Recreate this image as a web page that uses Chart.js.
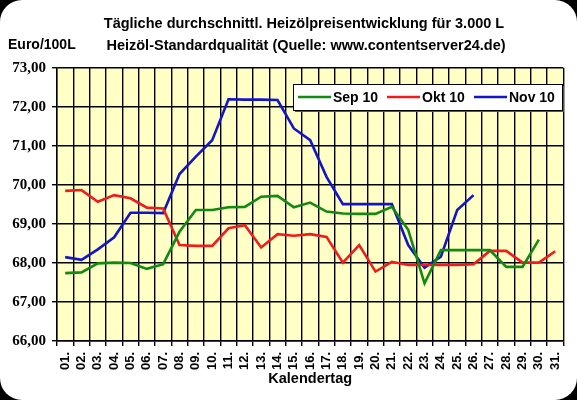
<!DOCTYPE html>
<html>
<head>
<meta charset="utf-8">
<script src="https://cdn.jsdelivr.net/npm/chart.js@4.4.0/dist/chart.umd.min.js"></script>
<style>
	html, body { margin: 0; padding: 0; background: #fff; }
	#wrap { width: 577px; height: 400px; }
</style>
</head>
<body>
<div id="wrap"><canvas id="line-chartcanvas" width="577" height="400"></canvas></div>
<script>
// categories: days of the month
var days = ["01.", "02.", "03.", "04.", "05.", "06.", "07.", "08.", "09.", "10.",
	"11.", "12.", "13.", "14.", "15.", "16.", "17.", "18.", "19.", "20.",
	"21.", "22.", "23.", "24.", "25.", "26.", "27.", "28.", "29.", "30.", "31."];

// Euro/100L
var sep10 = [67.74, 67.76, 67.99, 68.01, 68.00, 67.85, 67.97, 68.80, 69.36, 69.36,
	69.43, 69.44, 69.70, 69.72, 69.43, 69.55, 69.32, 69.27, 69.26, 69.26,
	69.44, 68.85, 67.48, 68.33, 68.33, 68.33, 68.33, 67.90, 67.90, 68.60];
var okt10 = [69.85, 69.87, 69.57, 69.74, 69.66, 69.42, 69.40, 68.46, 68.44, 68.44,
	68.89, 68.97, 68.40, 68.74, 68.70, 68.74, 68.67, 68.01, 68.46, 67.78,
	68.03, 67.95, 67.95, 67.95, 67.95, 67.97, 68.31, 68.31, 68.01, 68.01, 68.30];
var nov10 = [68.15, 68.08, 68.35, 68.66, 69.29, 69.29, 69.28, 70.28, 70.73, 71.15,
	72.20, 72.19, 72.19, 72.18, 71.45, 71.15, 70.21, 69.51, 69.51, 69.51,
	69.51, 68.46, 67.88, 68.16, 69.36, 69.74];

var seriesNames = ["Sep 10", "Okt 10", "Nov 10"];
var yTicks = { min: 66, max: 73, step: 1 };

var titleLines = ["Tägliche durchschnittl. Heizölpreisentwicklung für 3.000 L",
	"Heizöl-Standardqualität (Quelle: www.contentserver24.de)"];
var unitLabel = "Euro/100L";
var xTitle = "Kalendertag";

var FONT = "'Liberation Sans', Arial, sans-serif";
var SERIF = "'Liberation Serif', 'Times New Roman', serif";

// white card with black corners + yellow plot area
var backdrop = {
	id: "backdrop",
	beforeDraw: function(chart) {
		var c = chart.ctx, w = chart.width, h = chart.height, a = chart.chartArea;
		c.save();
		c.fillStyle = "#000";
		c.fillRect(0, 0, w, h);
		c.fillStyle = "#fff";
		c.beginPath();
		c.roundRect(0, 0, w, h, 22);
		c.fill();
		c.fillStyle = "#ffffc6";
		c.fillRect(a.left, a.top, a.right - a.left, a.bottom - a.top);
		c.restore();
	},
	afterDraw: function(chart) {
		var c = chart.ctx;
		c.save();
		c.fillStyle = "#000";
		c.textAlign = "center";
		c.textBaseline = "middle";
		c.font = "bold 14.5px " + FONT;
		c.fillText(titleLines[0], 304, 24);
		c.fillText(titleLines[1], 306, 46);
		c.textAlign = "left";
		c.font = "bold 14px " + FONT;
		c.fillText(unitLabel, 8, 45);
		c.restore();
	}
};

// legend box inside the plot, top right
var boxLegend = {
	id: "boxLegend",
	afterDatasetsDraw: function(chart) {
		var c = chart.ctx;
		var x = 293, y = 84, w = 269, h = 26;
		c.save();
		c.fillStyle = "#555";
		c.fillRect(x + 2, y + 2, w, h);
		c.fillStyle = "#fff";
		c.fillRect(x, y, w, h);
		c.strokeStyle = "#000";
		c.lineWidth = 1;
		c.strokeRect(x + 0.5, y + 0.5, w, h);
		var starts = [298, 387, 474];
		c.font = "bold 14px " + FONT;
		c.textBaseline = "middle";
		chart.data.datasets.forEach(function(ds, i) {
			c.strokeStyle = ds.borderColor;
			c.lineWidth = 2.5;
			c.beginPath();
			c.moveTo(starts[i], y + 13);
			c.lineTo(starts[i] + 33, y + 13);
			c.stroke();
			c.fillStyle = "#000";
			c.fillText(ds.label, starts[i] + 35, y + 14);
		});
		c.restore();
	}
};

var ctx = document.getElementById("line-chartcanvas");

var data = {
	labels: days,
	datasets: [
		{ label: seriesNames[0], data: sep10, borderColor: "#128a12", backgroundColor: "#128a12" },
		{ label: seriesNames[1], data: okt10, borderColor: "#ee1c1c", backgroundColor: "#ee1c1c" },
		{ label: seriesNames[2], data: nov10, borderColor: "#1414c8", backgroundColor: "#1414c8" }
	]
};

var chart = new Chart(ctx, {
	type: "line",
	data: data,
	options: {
		responsive: false,
		animation: false,
		devicePixelRatio: 1,
		layout: { padding: { top: 68, right: 12, left: 0, bottom: 0 } },
		elements: {
			line: { borderWidth: 2.6, tension: 0, fill: false },
			point: { radius: 0, hoverRadius: 0 }
		},
		plugins: {
			legend: { display: false },
			title: { display: false },
			tooltip: { enabled: false }
		},
		scales: {
			x: {
				offset: true,
				grid: { offset: true, color: "#000", lineWidth: 1.4, tickLength: 5, drawOnChartArea: true },
				border: { color: "#000", width: 1.4 },
				ticks: {
					color: "#000", minRotation: 90, maxRotation: 90, autoSkip: false, padding: 6,
					font: { family: FONT, size: 13, weight: "bold" }
				},
				title: {
					display: true, text: xTitle, color: "#000",
					font: { family: FONT, size: 14.5, weight: "bold" },
					padding: { top: 0, bottom: 12 }
				},
				afterFit: function(scale) { scale.height = 59; }
			},
			y: {
				min: yTicks.min,
				max: yTicks.max,
				grid: { color: "#000", lineWidth: 1.4, tickLength: 5 },
				border: { color: "#000", width: 1.4 },
				ticks: {
					stepSize: yTicks.step, color: "#000", padding: 6,
					font: { family: SERIF, size: 15, weight: "bold" },
					callback: function(v) { return v.toFixed(2).replace(".", ","); }
				},
				afterFit: function(scale) { scale.width = 57; }
			}
		}
	},
	plugins: [backdrop, boxLegend]
});
</script>
</body>
</html>
